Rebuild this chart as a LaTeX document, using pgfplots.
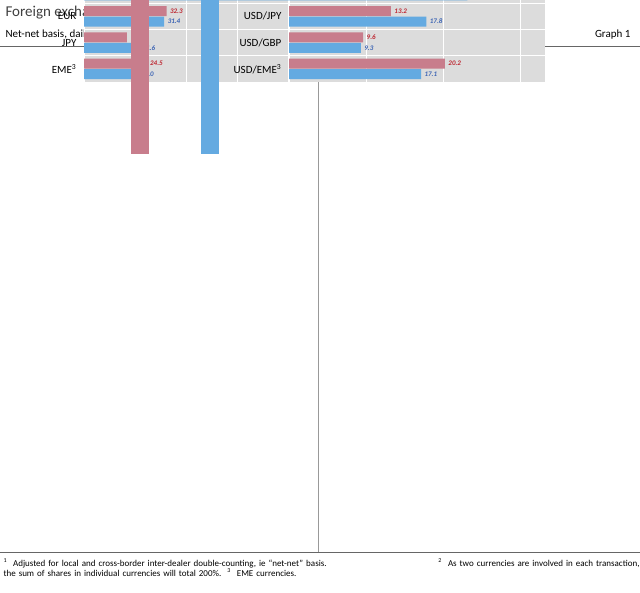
\documentclass[border=0pt]{standalone}
\usepackage{pgfplots}
\pgfplotsset{compat=1.18}
\usepackage{fontspec}
\setmainfont{Carlito}
\definecolor{pk}{RGB}{200,125,140}
\definecolor{bl}{RGB}{100,170,225}
\definecolor{pkt}{RGB}{190,40,50}
\definecolor{blt}{RGB}{60,100,180}
\definecolor{bg}{RGB}{220,220,220}
\pgfplotsset{
  panel/.style={scale only axis, xbar, y dir=reverse, axis line style={draw=none},
    axis background/.style={fill=bg}, tick style={draw=none},
    xmajorgrids, ymajorgrids=false, yminorgrids, grid style={white, line width=1pt},
    minor grid style={white, line width=1pt}, bar width=0.38,
    /pgf/number format/assume math mode=true,
    tick label style={font=\fontsize{11}{12}\selectfont}, xmin=0,
    nodes near coords, nodes near coords style={/pgf/number format/fixed, /pgf/number format/fixed zerofill, /pgf/number format/precision=1},
    clip=false, anchor=north west},
  s19/.style={fill=pk, draw=none, bar shift=-0.2, every node near coord/.append style={font=\scriptsize\bfseries\itshape, text=pkt}},
  s16/.style={fill=bl, draw=none, bar shift=0.2, every node near coord/.append style={font=\scriptsize\bfseries\itshape, text=blt}},
}
\pgfplotstableread{
i a b
0 88.3 87.6
1 32.3 31.4
2 16.8 21.6
3 24.5 21.0
}\tl
\pgfplotstableread{
i a b
0 12.8 12.8
1 6.8 6.9
2 5.0 5.1
3 5.0 4.8
4 4.3 4.0
5 3.5 1.7
6 2.1 2.1
7 2.0 2.2
8 2.0 1.7
9 1.8 1.8
10 1.8 1.7
11 1.7 1.9
}\bl
\pgfplotstableread{
i a b
0 24.0 23.1
1 13.2 17.8
2 9.6 9.3
3 20.2 17.1
}\tr
\pgfplotstableread{
i a b
0 5.4 5.2
1 4.4 4.3
2 4.1 3.8
3 3.5 3.6
4 3.3 1.5
5 1.9 1.5
6 1.7 1.1
7 1.7 1.6
8 1.6 1.5
9 2.0 2.0
10 1.7 1.6
11 1.1 0.9
}\br
\begin{document}
\begin{tikzpicture}[x=1pt,y=1pt]
\useasboundingbox (0,0) rectangle (640,-593);
\node[anchor=west, font=\fontsize{15}{16}\selectfont, text=black!75] at (2,-12) {Foreign exchange market turnover by currency and currency pairs\textsuperscript{1}};
\node[anchor=west, font=\fontsize{11}{12}\selectfont] at (2,-35) {Net-net basis, daily averages in April, in per cent};
\node[anchor=east, font=\fontsize{11}{12}\selectfont] at (634,-35) {Graph 1};
\draw[black!60, line width=1pt] (0,-47) -- (640,-47);
\draw[black!40] (318,-47) -- (318,-552);
\draw[black!60, line width=0.8pt] (0,-552) -- (640,-552);
\node[anchor=north, font=\fontsize{12}{13}\selectfont] at (158,-55) {Selected currencies\textsuperscript{2}};
\node[anchor=north, font=\fontsize{12}{13}\selectfont] at (480,-55) {Selected currency pairs};
\node[anchor=north west, font=\fontsize{9}{10.5}\selectfont, text width=636pt, align=left] at (0,-555) {\textsuperscript{1}\ \ Adjusted for local and cross-border inter-dealer double-counting, ie ``net-net'' basis.\hfill\textsuperscript{2}\ \ As two currencies are involved in each transaction,\\ the sum of shares in individual currencies will total 200\%.\ \ \textsuperscript{3}\ \ EME currencies.};

\begin{axis}[panel, at={(33,-88)}, width=267pt, height=105pt, xmax=104.7, ymin=-0.5, ymax=3.5,
  xtick={0,20,...,100}, xticklabel pos=top, ytick={0,...,3}, minor ytick={0.5,1.5,2.5},
  yticklabels={USD,EUR,JPY,EME\textsuperscript{3}}]
\addplot[s19] table[x=a,y=i]{\tl};
\addplot[s16] table[x=b,y=i]{\tl};
\end{axis}
\begin{axis}[panel, at={(33,-198)}, width=267pt, height=314pt, xmax=16.1, ymin=-0.5, ymax=11.5,
  xtick={0,3,...,15}, ytick={0,...,11}, minor ytick={0.5,1.5,...,10.5},
  yticklabels={GBP,AUD,CAD,CHF,CNY,HKD,NZD,SEK,KRW,SGD,NOK,MXN},
  legend style={at={(0.5,-0.1)}, anchor=north, draw=none, fill=none, legend columns=2, font=\fontsize{11}{12}\selectfont, /tikz/every even column/.append style={column sep=25pt}},
  legend image code/.code={\fill[#1] (0,-4pt) rectangle (18pt,4pt);}]
\addplot[s19] table[x=a,y=i]{\bl};
\addplot[s16] table[x=b,y=i]{\bl};
\legend{2019,2016}
\end{axis}
\begin{axis}[panel, at={(375,-88)}, width=256pt, height=105pt, xmax=33.2, ymin=-0.5, ymax=3.5,
  xtick={0,10,20,30}, xticklabel pos=top, ytick={0,...,3}, minor ytick={0.5,1.5,2.5},
  yticklabels={USD/EUR,USD/JPY,USD/GBP,USD/EME\textsuperscript{3}}]
\addplot[s19] table[x=a,y=i]{\tr};
\addplot[s16] table[x=b,y=i]{\tr};
\end{axis}
\begin{axis}[panel, at={(375,-198)}, width=256pt, height=314pt, xmax=10, ymin=-0.5, ymax=11.5,
  xtick={0,3,6,9}, ytick={0,...,11}, minor ytick={0.5,1.5,...,10.5},
  yticklabels={USD/AUD,USD/CAD,USD/CNY,USD/CHF,USD/HKD,USD/KRW,USD/INR,USD/SGD,USD/NZD,EUR/GBP,EUR/JPY,EUR/CHF},
  legend style={at={(0.35,-0.1)}, anchor=north, draw=none, fill=none, legend columns=2, font=\fontsize{11}{12}\selectfont, /tikz/every even column/.append style={column sep=25pt}},
  legend image code/.code={\fill[#1] (0,-4pt) rectangle (18pt,4pt);}]
\addplot[s19] table[x=a,y=i]{\br};
\addplot[s16] table[x=b,y=i]{\br};
\legend{2019,2016}
\end{axis}
\end{tikzpicture}
\end{document}
